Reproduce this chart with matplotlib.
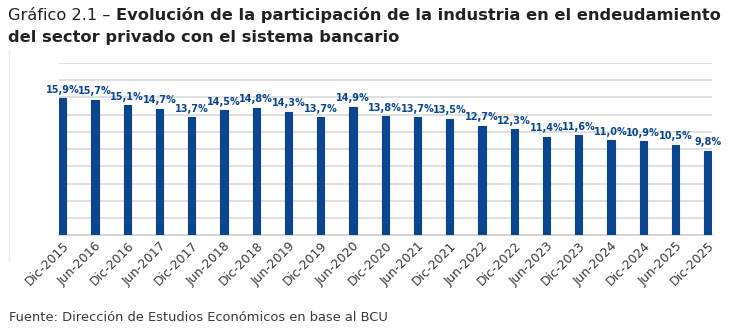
import matplotlib
matplotlib.use("Agg")
import matplotlib.pyplot as plt
from matplotlib.lines import Line2D

# datos
periodos = ["Dic-2015", "Jun-2016", "Dic-2016", "Jun-2017", "Dic-2017", "Jun-2018",
            "Dic-2018", "Jun-2019", "Dic-2019", "Jun-2020", "Dic-2020", "Jun-2021",
            "Dic-2021", "Jun-2022", "Dic-2022", "Jun-2023", "Dic-2023", "Jun-2024",
            "Dic-2024", "Jun-2025", "Dic-2025"]
participacion = [15.9, 15.7, 15.1, 14.7, 13.7, 14.5, 14.8, 14.3, 13.7, 14.9, 13.8,
                 13.7, 13.5, 12.7, 12.3, 11.4, 11.6, 11.0, 10.9, 10.5, 9.8]

azul = "#0A4590"
gris_texto = "#3A3A3A"

fig = plt.figure(figsize=(7.3, 3.34), dpi=100)
ax = fig.add_axes([0.0804, 0.2955, 0.8946, 0.5165])

x = list(range(len(periodos)))
bars = ax.bar(x, participacion, width=0.23, color=azul, edgecolor=azul,
              linewidth=0.8, joinstyle="round", zorder=3)

for b, v in zip(bars, participacion):
    ax.annotate(f"{v:.1f}%".replace(".", ","),
                (b.get_x() + b.get_width() / 2, v),
                xytext=(0, 2.5), textcoords="offset points",
                ha="center", va="bottom", fontsize=7.0, fontweight="bold",
                color=azul)

ax.set_xlim(-0.125, len(periodos) - 1 + 0.125)
ax.set_ylim(0, 20)
ax.set_yticks(range(0, 21, 2))
ax.yaxis.grid(True, color="#DADADA", linewidth=1.2, zorder=0)
ax.tick_params(axis="y", left=False, labelleft=False)
ax.tick_params(axis="x", length=0, pad=3)
ax.set_xticks(x)
ax.set_xticklabels(periodos, rotation=45, ha="right", rotation_mode="anchor",
                   fontsize=9, color=gris_texto)
for s in ["top", "right", "left"]:
    ax.spines[s].set_visible(False)
ax.spines["bottom"].set_color("#D0D0D0")
ax.spines["bottom"].set_linewidth(1.2)

# borde izquierdo tenue
fig.add_artist(Line2D([0.013, 0.013], [0.22, 0.85], transform=fig.transFigure,
                      color="#EBEBEB", linewidth=1))

# titulo con parte regular y parte en negrita
fig.canvas.draw()
r = fig.canvas.get_renderer()
t1 = fig.text(0.011, 0.955, "Gráfico 2.1 – ", fontsize=11.7, color="#222222",
              ha="left", va="center")
bb = t1.get_window_extent(renderer=r)
x2 = bb.x1 / fig.bbox.width
fig.text(x2, 0.955, "Evolución de la participación de la industria en el endeudamiento",
         fontsize=11.7, fontweight="bold", color="#222222", ha="left", va="center")
fig.text(0.011, 0.888, "del sector privado con el sistema bancario",
         fontsize=11.7, fontweight="bold", color="#222222", ha="left", va="center")

fig.text(0.013, 0.048, "Fuente: Dirección de Estudios Económicos en base al BCU",
         fontsize=9.4, color=gris_texto, ha="left", va="center")

plt.savefig("out.png", dpi=100)
